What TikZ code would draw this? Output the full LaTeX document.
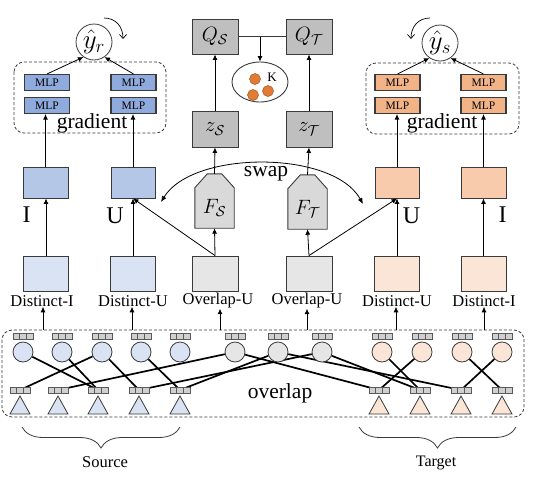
\documentclass[tikz,border=0pt]{standalone}
\usepackage{fontspec}
\setmainfont{Liberation Serif}
\usetikzlibrary{arrows.meta,decorations.pathreplacing,shapes.geometric}
\pgfdeclarelayer{bg}
\pgfsetlayers{bg,main}
\definecolor{bd}{HTML}{3A3A3A}
\definecolor{mlpblue}{HTML}{8FAADC}
\definecolor{ublue}{HTML}{B4C7E7}
\definecolor{dblue}{HTML}{DAE3F3}
\definecolor{mlpor}{HTML}{F2B386}
\definecolor{uor}{HTML}{F8CBAD}
\definecolor{dor}{HTML}{FBE5D6}
\definecolor{qgray}{HTML}{BFBFBF}
\definecolor{fgray}{HTML}{D9D9D9}
\definecolor{ogray}{HTML}{E6E6E6}
\definecolor{dotor}{HTML}{E27C35}
\definecolor{sqfill}{HTML}{D0D0D0}
\definecolor{sqbd}{HTML}{5A5A5A}
\newcommand\sqgrp[3]{%
  \node[sq] (#1) at (#2,#3) {};
  \draw[sqbd,line width=0.5pt] ([xshift=-3.33pt]#1.north) -- ([xshift=-3.33pt]#1.south)
    ([xshift=3.33pt]#1.north) -- ([xshift=3.33pt]#1.south);}
\newcommand\trish[2]{%
  \draw[draw=bd,line width=0.8pt,fill=#2] (#1-10,414) -- (#1,396) -- (#1+10,414) -- cycle;}
\begin{document}
\begin{tikzpicture}[x=1pt,y=-1pt,
  box/.style={draw=bd,line width=0.9pt,inner sep=0pt,minimum width=45pt,minimum height=31pt},
  dbox/.style={box,minimum height=35pt},
  qbox/.style={box,fill=qgray,minimum width=46pt,minimum height=35pt,font=\mathfs},
  mlp/.style={draw=bd,line width=1.1pt,inner sep=0pt,minimum width=45pt,minimum height=16pt,font=\fontsize{11.5}{12}\selectfont},
  circ/.style={circle,draw=bd,line width=0.8pt,inner sep=0pt,minimum size=20pt},
  sq/.style={draw=sqbd,fill=sqfill,line width=0.5pt,inner sep=0pt,minimum width=20pt,minimum height=5.5pt},
  link/.style={line width=1.7pt,black},
  arr/.style={-{Latex[length=5.5pt,width=5pt]},line width=0.8pt},
  dashbox/.style={draw=bd,dash pattern=on 3pt off 2pt,line width=0.8pt,rounded corners=10pt},
  big/.style={font=\fontsize{21.5}{24}\selectfont},
  bigger/.style={font=\fontsize{24}{26}\selectfont},
  lab/.style={inner sep=0pt,font=\fontsize{16.5}{18}\selectfont},
  house/.style={draw=bd,line width=0.9pt,fill=fgray},
]
\def\mathfs{\fontsize{21}{23}\selectfont}
\useasboundingbox (0,0) rectangle (534,482);

% ---------- top: predictions ----------
\node[circ,minimum size=36pt,font=\mathfs] (yr) at (94,42) {\scalebox{1.3}{$\hat{y}_r$}};
\node[circ,minimum size=36pt,font=\mathfs] (ys) at (440,43) {\scalebox{1.3}{$\hat{y}_s$}};
\coordinate (yra) at (104,18); \coordinate (yrb) at (123,39);
\coordinate (ysa) at (430,18); \coordinate (ysb) at (411,39);
\draw[-{Straight Barb[length=4pt,width=7pt]},line width=0.7pt] (yra) .. controls (116,18) and (123,27) .. (yrb);
\draw[-{Straight Barb[length=4pt,width=7pt]},line width=0.7pt] (ysa) .. controls (418,18) and (411,27) .. (ysb);

\draw[dashbox] (14,62) rectangle (166,133);
\draw[dashbox] (366,63) rectangle (519,134);
\node[mlp,fill=mlpblue] (mb11) at (47,82.5) {MLP};
\node[mlp,fill=mlpblue] (mb12) at (133.5,82.5) {MLP};
\node[mlp,fill=mlpblue] (mb21) at (47,105.5) {MLP};
\node[mlp,fill=mlpblue] (mb22) at (133.5,105.5) {MLP};
\node[mlp,fill=mlpor] (mo11) at (397.5,82.5) {MLP};
\node[mlp,fill=mlpor] (mo12) at (483.5,82.5) {MLP};
\node[mlp,fill=mlpor] (mo21) at (397.5,105.5) {MLP};
\node[mlp,fill=mlpor] (mo22) at (483.5,105.5) {MLP};
\node[big,inner sep=0pt] (gl) at (92,123) {gradient};
\node[big,inner sep=0pt] (gr) at (442,123) {gradient};
\draw[arr] (mb11.north) -- (yr.235);
\draw[arr] (mb12.north) -- (yr.305);
\draw[arr] (mo11.north) -- (ys.235);
\draw[arr] (mo12.north) -- (ys.305);

% ---------- middle column ----------
\node[qbox] (QS) at (215,36.5) {$Q_{\mathcal{S}}$};
\node[qbox] (QT) at (309,36.5) {$Q_{\mathcal{T}}$};
\node[qbox,minimum height=36pt] (zS) at (215,129) {$z_{\mathcal{S}}$};
\node[qbox,minimum height=36pt] (zT) at (309,129) {$z_{\mathcal{T}}$};
\node[ellipse,draw=bd,line width=0.9pt,fill=white,minimum width=56pt,minimum height=40pt,inner sep=0pt] (K) at (260,82) {};
\node[circle,fill=dotor,draw=dotor!70!black,line width=0.5pt,minimum size=11pt,inner sep=0pt] (d1) at (255,79) {};
\node[circle,fill=dotor,draw=dotor!70!black,line width=0.5pt,minimum size=11pt,inner sep=0pt] (d2) at (253,95) {};
\node[circle,fill=dotor,draw=dotor!70!black,line width=0.5pt,minimum size=11pt,inner sep=0pt] (d3) at (268,91) {};
\node[font=\fontsize{13}{13}\selectfont,inner sep=0pt] (Kl) at (272,77) {K};
\draw[line width=0.9pt,bd] (QS.east) -- (QT.west);
\draw[arr] (QS.east -| K.north) -- (K.north);
\draw[arr] (zS.north) -- (QS.south);
\draw[arr] (zT.north) -- (QT.south);

% houses F
\node[inner sep=0pt,minimum width=39pt,minimum height=54pt] (FS) at (214.5,201) {};
\node[inner sep=0pt,minimum width=39pt,minimum height=54pt] (FT) at (307.5,202) {};
\foreach \h in {FS,FT}{
  \draw[house] (\h.south west) -- ([yshift=-14pt]\h.north west) -- ([xshift=12.5pt]\h.north west)
    -- ([xshift=-12.5pt]\h.north east) -- ([yshift=-14pt]\h.north east) -- (\h.south east) -- cycle;}
\node[font=\mathfs,inner sep=0pt] (FSt) at (214.5,208) {$F_{\mathcal{S}}$};
\node[font=\mathfs,inner sep=0pt] (FTt) at (307.5,209) {$F_{\mathcal{T}}$};
\draw[arr] (FS.north) -- (zS.south);
\draw[arr] (FT.north) -- (zT.south);

% ---------- representation boxes ----------
\node[box,fill=ublue] (Ib) at (45.5,182.5) {};
\node[box,fill=ublue,minimum width=44pt] (Ub) at (133,182.5) {};
\node[box,fill=uor,minimum width=44pt] (Uo) at (397,182.5) {};
\node[box,fill=uor] (Io) at (483.5,182.5) {};
\node[bigger,inner sep=0pt] (Il) at (26.5,215) {I};
\node[bigger,inner sep=0pt] (Ul) at (115,216) {U};
\node[bigger,inner sep=0pt] (Uol) at (411.5,216) {U};
\node[bigger,inner sep=0pt] (Iol) at (502.5,215) {I};
\draw[arr] (Ib.north) -- (Ib.north |- mb21.south);
\draw[arr] (Ub.north) -- (Ub.north |- mb22.south);
\draw[arr] (Uo.north) -- (Uo.north |- mo21.south);
\draw[arr] (Io.north) -- (Io.north |- mo22.south);

% swap
\coordinate (sw1) at (161,202);
\coordinate (sw2) at (363,204);
\draw[{Latex[length=6pt,width=5pt]}-{Latex[length=6pt,width=5pt]},line width=0.8pt]
  (sw1) .. controls (193,150) and (333,150) .. (sw2);
\node[big,inner sep=0pt] (swl) at (266,174) {swap};

% distinct / overlap boxes
\node[dbox,fill=dblue] (DI) at (46,273.5) {};
\node[dbox,fill=dblue] (DU) at (133,273.5) {};
\node[dbox,fill=ogray,minimum width=46pt] (OU) at (215,273.5) {};
\node[dbox,fill=ogray,minimum width=46pt] (OUr) at (309,273.5) {};
\node[dbox,fill=dor] (DUo) at (397,273.5) {};
\node[dbox,fill=dor] (DIo) at (483.5,273.5) {};
\node[lab] (DIl) at (42,301) {Distinct-I};
\node[lab] (DUl) at (133,301) {Distinct-U};
\node[lab] (OUl) at (218,301) {Overlap-U};
\node[lab] (OUrl) at (307,301) {Overlap-U};
\node[lab] (DUol) at (397,301) {Distinct-U};
\node[lab] (DIol) at (484,301) {Distinct-I};

\draw[arr] (DI.north) -- (DI.north |- Ib.south);
\draw[arr] (DU.north) -- (DU.north |- Ub.south);
\draw[arr] (OU.north) -- (Ub.south);
\draw[arr] (OU.north) -- (FS.south);
\draw[arr] (OUr.north) -- (FT.south);
\draw[arr] (OUr.north) -- (Uo.south);
\draw[arr] (DUo.north) -- (DUo.north |- Uo.south);
\draw[arr] (DIo.north) -- (DIo.north |- Io.south);

% ---------- bottom graph ----------
\draw[dashbox] (2,330) rectangle (524,417);
\foreach \n/\x in {a1/43,a2/132,a3/220,a4/307,a5/396,a6/484}{\coordinate (\n) at (\x,330);}
\draw[arr] (a1) -- (a1 |- DIl.south);
\draw[arr] (a2) -- (a2 |- DUl.south);
\draw[arr] (a3) -- (a3 |- OUl.south);
\draw[arr] (a4) -- (a4 |- OUrl.south);
\draw[arr] (a5) -- (a5 |- DUol.south);
\draw[arr] (a6) -- (a6 |- DIol.south);

\foreach \i/\x in {1/23,2/62,3/102,4/141,5/180}{
  \node[circ,fill=dblue] (s\i) at (\x,352) {}; \sqgrp{ss\i}{\x}{336}}
\foreach \i/\x in {1/235,2/278,3/322}{
  \node[circ,fill=ogray] (g\i) at (\x,352) {}; \sqgrp{gs\i}{\x}{336}}
\foreach \i/\x in {1/382,2/422,3/462,4/502}{
  \node[circ,fill=dor] (t\i) at (\x,352) {}; \sqgrp{ts\i}{\x}{336}}
\foreach \i/\x in {1/20,2/58,3/98,4/139,5/180}{
  \trish{\x}{dblue} \sqgrp{qs\i}{\x}{390}}
\foreach \i/\x in {1/379,2/420,3/461,4/502}{
  \trish{\x}{dor} \sqgrp{qt\i}{\x}{390}}

\begin{pgfonlayer}{bg}
\draw[link] (s1) -- (qs3.center);
\draw[link] (s2) -- (qs3.center);
\draw[link] (s3) -- (qs1.center);
\draw[link] (s3) -- (qs4.center);
\draw[link] (s4) -- (qs5.center);
\draw[link] (qs2.center) -- (g1);
\draw[link] (qs4.center) -- (g3);
\draw[link] (qs5.center) -- (g2);
\draw[link] (g1) -- (qt1.center);
\draw[link] (g2) -- (qt3.center);
\draw[link] (g3) -- (qt2.center);
\draw[link] (t1) -- (qt2.center);
\draw[link] (t2) -- (qt1.center);
\draw[link] (t3) -- (qt4.center);
\draw[link] (t4) -- (qt3.center);
\end{pgfonlayer}
\node[big,inner sep=0pt] (ovl) at (280,393) {overlap};

% braces
\draw[decorate,decoration={brace,mirror,amplitude=21pt},line width=0.8pt,bd] (22,427) -- (180,427);
\draw[decorate,decoration={brace,mirror,amplitude=21pt},line width=0.8pt,bd] (359,427) -- (516,427);
\node[font=\fontsize{16.5}{18}\selectfont,inner sep=0pt] (src) at (105,462) {Source};
\node[font=\fontsize{16}{18}\selectfont,inner sep=0pt] (tgt) at (436,463) {Target};
\end{tikzpicture}
\end{document}
